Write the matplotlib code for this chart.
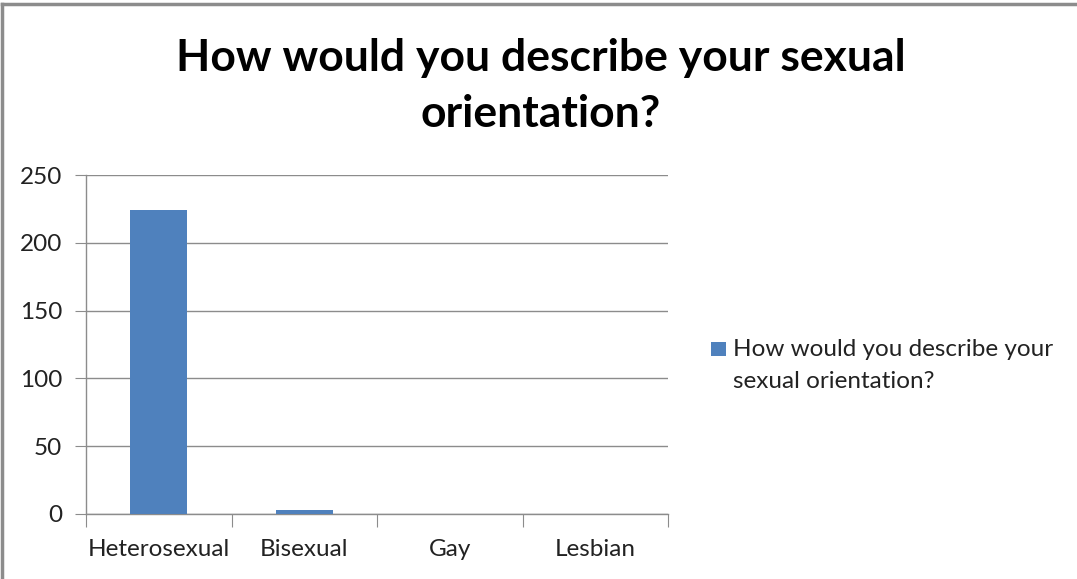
import matplotlib
matplotlib.use("Agg")
import matplotlib.pyplot as plt
from matplotlib.lines import Line2D
from matplotlib.patches import Rectangle

categories = ["Heterosexual", "Bisexual", "Gay", "Lesbian"]
values = [224, 3, 0, 0]
series_lines = ["How would you describe your", "sexual orientation?"]
title_lines = ["How would you describe your sexual", "orientation?"]
yticks = [0, 50, 100, 150, 200, 250]

plt.rcParams['font.family'] = ['Lato', 'DejaVu Sans']
BAR = "#4F81BD"
GRID = "#8c8c8c"
TXT = "#222222"

fig = plt.figure(figsize=(10.77, 5.79), dpi=100)
W, H = 1077, 579
ax = fig.add_axes([86 / W, 1 - 514 / H, (668 - 86) / W, (514 - 175) / H])

x = list(range(len(categories)))
ax.bar(x, values, width=0.39, color=BAR, zorder=3, label=" ".join(series_lines))
ax.set_xlim(-0.5, len(categories) - 0.5)
ax.set_ylim(0, 250)
ax.set_yticks(yticks)
ax.set_yticklabels([str(v) for v in yticks], fontsize=17.5, color=TXT)
ax.yaxis.grid(True, color=GRID, linewidth=1, zorder=0)
for s in ["top", "right"]:
    ax.spines[s].set_visible(False)
for s in ["left", "bottom"]:
    ax.spines[s].set_color(GRID)
    ax.spines[s].set_linewidth(1)
ax.tick_params(axis="y", length=8, color=GRID, pad=9)
ax.set_xticks([i - 0.5 for i in range(len(categories) + 1)], minor=False)
ax.set_xticklabels([])
ax.tick_params(axis="x", which="major", length=9, color=GRID, direction="out")
ax.set_xticks(x, minor=True)
ax.set_xticklabels(categories, minor=True, fontsize=17.5, color=TXT)
ax.tick_params(axis="x", which="minor", length=0, pad=18)

# Title (two lines)
fig.text(541 / W, 1 - 71 / H, title_lines[0], ha="center", va="baseline",
         fontsize=32, fontweight="bold", color="black")
fig.text(541 / W, 1 - 127 / H, title_lines[1], ha="center", va="baseline",
         fontsize=32, fontweight="bold", color="black")

# Legend (drawn to match the wrapped label with the key beside the first line)
fig.add_artist(Rectangle((711 / W, 1 - 356 / H), 15 / W, 14 / H,
                         transform=fig.transFigure, facecolor=BAR, edgecolor="none"))
fig.text(733 / W, 1 - 356 / H, series_lines[0], ha="left", va="baseline",
         fontsize=17.5, color=TXT)
fig.text(733 / W, 1 - 388 / H, series_lines[1], ha="left", va="baseline",
         fontsize=17.5, color=TXT)

fig.add_artist(Line2D([2.5 / W, 1], [1 - 3.5 / H, 1 - 3.5 / H], color=GRID, linewidth=2.5))
fig.add_artist(Line2D([2.5 / W, 2.5 / W], [0, 1 - 3.5 / H], color=GRID, linewidth=2.5))

fig.savefig("out.png", dpi=100)
